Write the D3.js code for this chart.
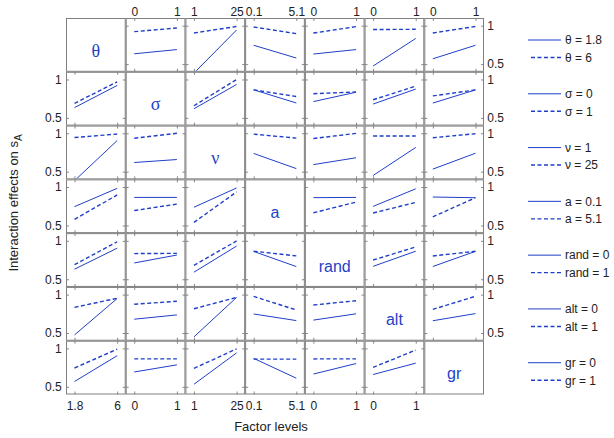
<!DOCTYPE html>
<html>
<head>
<meta charset="utf-8">
<script src="https://cdn.jsdelivr.net/npm/d3@7"></script>
<style>
  body { margin: 0; background: #fff; }
  svg { display: block; font-family: "Liberation Sans", Arial, sans-serif; }
  .tick text { font-size: 12px; fill: #222; }
  .tick line { stroke: #8a8a8a; }
</style>
</head>
<body>
<svg id="chart" width="614" height="438"></svg>
<script>
const factors = ["θ", "σ", "ν", "a", "rand", "alt", "gr"];
const levels = [[1.8, 6], [0, 1], [1, 25], [0.1, 5.1], [0, 1], [0, 1], [0, 1]];
const levelLabels = [["1.8", "6"], ["0", "1"], ["1", "25"], ["0.1", "5.1"], ["0", "1"], ["0", "1"], ["0", "1"]];
const yTicks = [0.5, 1];

// mean s_A for each factor pair: [i, j, [[iLo&jLo, iLo&jHi], [iHi&jLo, iHi&jHi]]]
const pairMeans = [
  [0, 1, [[0.634, 0.689], [0.922, 0.970]]],
  [0, 2, [[0.383, 0.944], [0.905, 0.990]]],
  [0, 3, [[0.745, 0.579], [0.983, 0.897]]],
  [0, 4, [[0.631, 0.689], [0.904, 0.988]]],
  [0, 5, [[0.475, 0.834], [0.950, 0.953]]],
  [0, 6, [[0.569, 0.745], [0.905, 0.990]]],
  [1, 2, [[0.619, 0.935], [0.658, 1.000]]],
  [1, 3, [[0.865, 0.694], [0.865, 0.778]]],
  [1, 4, [[0.712, 0.834], [0.815, 0.837]]],
  [1, 5, [[0.680, 0.875], [0.736, 0.913]]],
  [1, 6, [[0.693, 0.864], [0.786, 0.864]]],
  [2, 3, [[0.737, 0.540], [0.988, 0.937]]],
  [2, 4, [[0.592, 0.681], [0.932, 0.998]]],
  [2, 5, [[0.450, 0.816], [0.964, 0.964]]],
  [2, 6, [[0.533, 0.740], [0.942, 0.994]]],
  [3, 4, [[0.862, 0.865], [0.665, 0.804]]],
  [3, 5, [[0.748, 0.977], [0.662, 0.800]]],
  [3, 6, [[0.870, 0.861], [0.612, 0.861]]],
  [4, 5, [[0.668, 0.865], [0.750, 0.920]]],
  [4, 6, [[0.666, 0.863], [0.803, 0.864]]],
  [5, 6, [[0.660, 0.753], [0.808, 0.978]]],
];

const svg = d3.select("#chart");
const n = factors.length;
const blue = "#1f3fc9";

const col = d3.scaleBand().domain(d3.range(n)).range([66, 484]);
const row = d3.scaleBand().domain(d3.range(n)).range([18, 394.5]);
const bw = col.bandwidth();
const bh = row.bandwidth();

const xScales = levels.map((lv, j) => {
  const pad = (lv[1] - lv[0]) * 0.2;
  return d3.scaleLinear().domain([lv[0] - pad, lv[1] + pad]).range([col(j), col(j) + bw]);
});
const yScales = d3.range(n).map((i) =>
  d3.scaleLinear().domain([0.4, 1.1]).range([row(i) + bh, row(i)]),
);

// lines for cell (i, j): one per level of row factor i, across levels of column factor j
function cellLines(i, j) {
  if (i < j) {
    const t = pairMeans.find((p) => p[0] === i && p[1] === j)[2];
    return [t[0], t[1]];
  }
  const t = pairMeans.find((p) => p[0] === j && p[1] === i)[2];
  return [[t[0][0], t[1][0]], [t[0][1], t[1][1]]];
}

const defs = svg.append("defs");

for (let i = 0; i < n; i++) {
  for (let j = 0; j < n; j++) {
    const x = xScales[j];
    const y = yScales[i];
    const g = svg.append("g");

    g.append("rect")
      .attr("x", col(j) + 0.5)
      .attr("y", row(i) + 0.5)
      .attr("width", bw - 1)
      .attr("height", bh - 1)
      .attr("fill", "#fff");

    if (i === j) {
      const greek = i < 3;
      g.append("text")
        .attr("x", col(j) + bw / 2)
        .attr("y", row(i) + 38.5)
        .attr("text-anchor", "middle")
        .attr("fill", blue)
        .style("font-size", greek ? "18px" : "16px")
        .style("font-family", greek ? "'Liberation Serif', serif" : null)
        .text(factors[i]);
    } else {
      const clipId = `clip-${i}-${j}`;
      defs.append("clipPath").attr("id", clipId)
        .append("rect")
        .attr("x", col(j) + 1).attr("y", row(i) + 1)
        .attr("width", bw - 2).attr("height", bh - 2);

      const line = d3.line()
        .x((d, k) => x(levels[j][k]))
        .y((d) => y(d));

      g.append("g")
        .attr("clip-path", `url(#${clipId})`)
        .selectAll("path")
        .data(cellLines(i, j))
        .join("path")
        .attr("d", line)
        .attr("fill", "none")
        .attr("stroke", blue)
        .attr("stroke-width", (d, k) => (k === 0 ? 1 : 1.4))
        .attr("stroke-dasharray", (d, k) => (k === 0 ? null : "4,2.5"));

      // inward ticks on all four sides
      const top = row(i), bottom = row(i) + bh, left = col(j), right = col(j) + bw;
      const ticks = [
        [d3.axisTop(x).tickValues(levels[j]), `translate(0,${top})`],
        [d3.axisBottom(x).tickValues(levels[j]), `translate(0,${bottom})`],
        [d3.axisLeft(y).tickValues(yTicks), `translate(${left},0)`],
        [d3.axisRight(y).tickValues(yTicks), `translate(${right},0)`],
      ];
      ticks.forEach(([axis, tr]) => {
        g.append("g")
          .attr("transform", tr)
          .call(axis.tickSize(-3).tickFormat(""))
          .call((a) => a.select(".domain").remove());
      });
    }

    g.append("rect")
      .attr("x", col(j) + 0.5)
      .attr("y", row(i) + 0.5)
      .attr("width", bw - 1)
      .attr("height", bh - 1)
      .attr("fill", "none")
      .attr("stroke", "#7f7f7f")
      .attr("stroke-width", 1);
  }
}

// tick labels around the outside
const labelFmt = (j) => (v) => levelLabels[j][levels[j].indexOf(v)];
for (let j = 0; j < n; j++) {
  if (j !== 0) {
    svg.append("g")
      .attr("transform", `translate(0,${row(0)})`)
      .call(d3.axisTop(xScales[j]).tickValues(levels[j]).tickSize(0).tickPadding(2.5).tickFormat(labelFmt(j)))
      .call((a) => a.select(".domain").remove());
  }
  if (j !== n - 1) {
    svg.append("g")
      .attr("transform", `translate(0,${row(n - 1) + bh})`)
      .call(d3.axisBottom(xScales[j]).tickValues(levels[j]).tickSize(0).tickPadding(7).tickFormat(labelFmt(j)))
      .call((a) => a.select(".domain").remove());
  }
}
for (let i = 0; i < n; i++) {
  if (i !== 0) {
    svg.append("g")
      .attr("transform", `translate(${col(0)},0)`)
      .call(d3.axisLeft(yScales[i]).tickValues(yTicks).tickSize(0).tickPadding(4.3).tickFormat(d3.format("")))
      .call((a) => a.select(".domain").remove());
  }
  if (i !== n - 1) {
    svg.append("g")
      .attr("transform", `translate(${col(n - 1) + bw},0)`)
      .call(d3.axisRight(yScales[i]).tickValues(yTicks).tickSize(0).tickPadding(3.3).tickFormat(d3.format("")))
      .call((a) => a.select(".domain").remove());
  }
}

// legend, one pair of entries per row
for (let i = 0; i < n; i++) {
  const lg = svg.append("g");
  [0, 1].forEach((k) => {
    const ly = row(i) + (k === 0 ? 22 : 39.5);
    lg.append("line")
      .attr("x1", k === 0 ? 528 : 531)
      .attr("x2", 561)
      .attr("y1", ly)
      .attr("y2", ly)
      .attr("stroke", blue)
      .attr("stroke-width", k === 0 ? 1 : 1.4)
      .attr("stroke-dasharray", k === 0 ? null : "4,2.5");
    lg.append("text")
      .attr("x", 565)
      .attr("y", ly + 4.3)
      .style("font-size", "12px")
      .attr("fill", "#222")
      .text(`${factors[i]} = ${levelLabels[i][k]}`);
  });
}

svg.append("text")
  .attr("x", (col(0) + col(n - 1) + bw) / 2 - 4)
  .attr("y", 431)
  .attr("text-anchor", "middle")
  .style("font-size", "13px")
  .attr("fill", "#222")
  .text("Factor levels");

const yTitle = svg.append("text")
  .attr("transform", "translate(18,203) rotate(-90)")
  .attr("text-anchor", "middle")
  .style("font-size", "13px")
  .attr("fill", "#222");
yTitle.append("tspan").text("Interaction effects on s");
yTitle.append("tspan").attr("dy", 4).style("font-size", "10px").text("A");
</script>
</body>
</html>
